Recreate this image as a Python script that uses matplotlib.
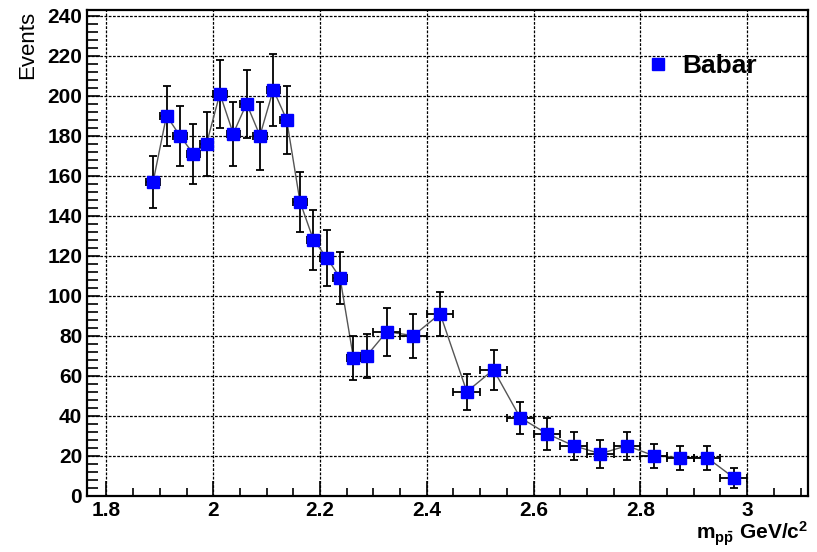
import matplotlib
matplotlib.use("Agg")
import matplotlib.pyplot as plt
from matplotlib.lines import Line2D
from matplotlib.ticker import MultipleLocator

plt.rcParams["font.family"] = ["Liberation Sans", "DejaVu Sans"]
plt.rcParams["mathtext.fontset"] = "custom"
plt.rcParams["mathtext.rm"] = "Liberation Sans:bold"
plt.rcParams["mathtext.it"] = "Liberation Sans:bold"
plt.rcParams["mathtext.bf"] = "Liberation Sans:bold"

# p-pbar invariant mass spectrum (bin centres, half-widths, counts, errors)
mass = [1.8875, 1.9125, 1.9375, 1.9625, 1.9875, 2.0125, 2.0375, 2.0625,
        2.0875, 2.1125, 2.1375, 2.1625, 2.1875, 2.2125, 2.2375, 2.2625,
        2.2875, 2.325, 2.375, 2.425, 2.475, 2.525, 2.575, 2.625, 2.675,
        2.725, 2.775, 2.825, 2.875, 2.925, 2.975]
half_width = [0.0125] * 17 + [0.025] * 14
events = [157, 190, 180, 171, 176, 201, 181, 196, 180, 203, 188, 147,
          128, 119, 109, 69, 70, 82, 80, 91, 52, 63, 39, 31, 25, 21,
          25, 20, 19, 19, 9]
errors = [13, 15, 15, 15, 16, 17, 16, 17, 17, 18, 17, 15, 15, 14, 13,
          11, 11, 12, 11, 11, 9, 10, 8, 8, 7, 7, 7, 6, 6, 6, 5]

W, H = 817, 552
fig = plt.figure(figsize=(W / 100, H / 100), dpi=100)
ax = fig.add_axes([87 / W, 1 - 495.7 / H, (808 - 87) / W, (495.7 - 10) / H])

ax.plot(mass, events, color="#555555", lw=1.0, zorder=2)
ax.errorbar(mass, events, yerr=errors, xerr=half_width, fmt="none",
            ecolor="black", elinewidth=1.3, capsize=3, capthick=1.3, zorder=3)
ax.plot(mass, events, linestyle="none", marker="s", markersize=8,
        markerfacecolor="#0000ff", markeredgecolor="#0000ff", zorder=4)

ax.set_xlim(1.7636, 3.114)
ax.set_ylim(0, 242.8)

ax.xaxis.set_minor_locator(MultipleLocator(0.05))
ax.yaxis.set_major_locator(MultipleLocator(20))
ax.yaxis.set_minor_locator(MultipleLocator(4))

ax.set_xticks([1.8, 2.0, 2.2, 2.4, 2.6, 2.8, 3.0])
ax.set_xticklabels(["1.8", "2", "2.2", "2.4", "2.6", "2.8", "3"])

ax.tick_params(axis="both", which="both", direction="in", top=False,
               right=False, color="black", labelsize=15)
ax.tick_params(axis="x", which="major", length=11, width=1.2, pad=4)
ax.tick_params(axis="x", which="minor", length=5.5, width=1.2)
ax.tick_params(axis="y", which="major", length=9.5, width=1.2, pad=3.5)
ax.tick_params(axis="y", which="minor", length=8, width=1.2)
for lab in ax.get_xticklabels() + ax.get_yticklabels():
    lab.set_fontweight("bold")

ax.grid(True, which="major", color="black", linestyle=(0, (2.2, 1.2)),
        linewidth=0.9)
ax.set_axisbelow(True)

for side in ["left", "bottom", "top", "right"]:
    ax.spines[side].set_linewidth(1.6)
    ax.spines[side].set_color("black")

fig.text(28 / W, 1 - 11 / H, "Events", rotation=90, ha="center", va="top",
         fontsize=16)
fig.text(808 / W, 1 - 540 / H,
         r"$\mathrm{m}_{\mathrm{p}\bar{\mathrm{p}}}\ \mathrm{GeV/c}^{2}$",
         ha="right", va="baseline", fontsize=15)

handle = Line2D([], [], linestyle="none", marker="s", markersize=8,
                markerfacecolor="#0000ff", markeredgecolor="#0000ff")
ax.legend([handle], ["Babar"], loc="center left",
          bbox_to_anchor=(645 / W, 1 - 66 / H), bbox_transform=fig.transFigure,
          frameon=False, borderpad=0, borderaxespad=0, handlelength=1.0,
          handletextpad=0.4, prop={"size": 19, "weight": "bold"})

fig.savefig("out.png", dpi=100)
